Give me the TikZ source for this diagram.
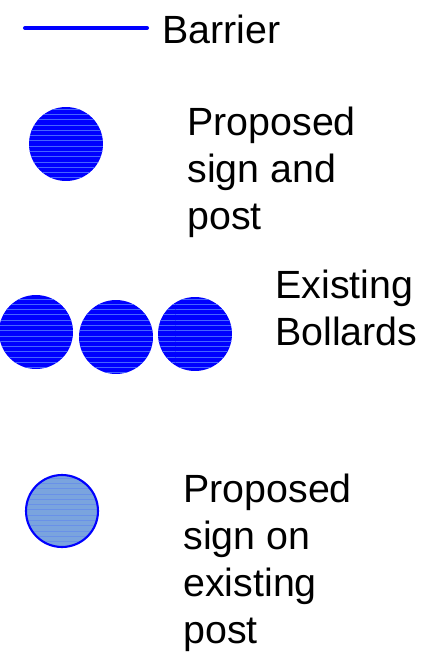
\documentclass[tikz,border=0pt]{standalone}
\usepackage{fontspec}
\setmainfont{Liberation Sans}
\usetikzlibrary{patterns}
\definecolor{signblue}{RGB}{0,0,255}
\definecolor{streak}{RGB}{70,100,255}
\definecolor{postfill}{RGB}{122,164,222}
\definecolor{poststreak}{RGB}{105,145,232}
\tikzset{
  legtext/.style={inner sep=0pt, align=left, font=\fontsize{22.4}{26.7}\selectfont},
  barrier/.style={draw=signblue, line width=2.3pt, line cap=round},
  newsign/.style={circle, inner sep=0pt, minimum size=1.48cm,
    preaction={fill=signblue}, pattern=horizontal lines, pattern color=streak},
  oldsign/.style={circle, inner sep=0pt, minimum size=1.44cm, draw=signblue, line width=1.2pt,
    preaction={fill=postfill}, pattern=horizontal lines, pattern color=poststreak}
}

\begin{document}
\begin{tikzpicture}[x=0.02cm, y=-0.02cm]
  \useasboundingbox (0,0) rectangle (430,653);
  % barrier
  \coordinate (bl) at (25,28);
  \coordinate (br) at (147,28);
  \draw[barrier] (bl) -- (br);
  \node[legtext, anchor=base west] (barriertxt) at (162,43) {Barrier};
  % proposed sign and post
  \node[newsign] (sign) at (66,144) {};
  \node[legtext, anchor=base west] (signtxt) at (187,229) {Proposed\\sign and\\post};
  % bollards
  \node[newsign] (b1) at (36,332) {};
  \node[newsign] (b2) at (116,337) {};
  \node[newsign] (b3) at (195,334) {};
  \node[legtext, anchor=base west] (bollardtxt) at (275,345) {Existing\\Bollards};
  % sign on existing post
  \node[oldsign] (oldpost) at (62,511) {};
  \node[legtext, anchor=base west] (oldtxt) at (183,643) {Proposed\\sign on\\existing\\post};
\end{tikzpicture}
\end{document}
